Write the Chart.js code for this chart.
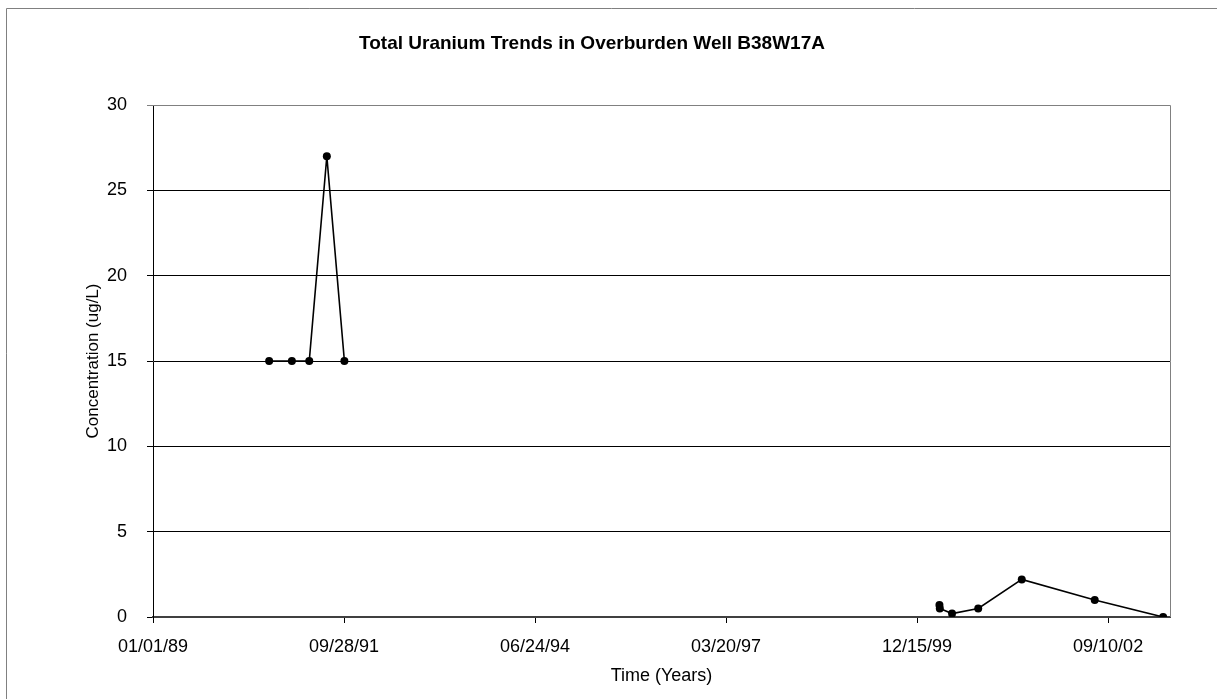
<!DOCTYPE html>
<html>
<head>
<meta charset="utf-8">
<title>Total Uranium Trends in Overburden Well B38W17A</title>
<script src="https://cdn.jsdelivr.net/npm/chart.js@4.4.1/dist/chart.umd.min.js"></script>
<style>
  html, body { margin: 0; padding: 0; background: #fff; }
  #wrap { width: 1217px; height: 699px; position: relative; }
</style>
</head>
<body>
<div id="wrap"><canvas id="uraniumChart" width="1217" height="699"></canvas></div>
<script>
const chartTitle = "Total Uranium Trends in Overburden Well B38W17A";
const yAxisTitle = "Concentration (ug/L)";

// sampling dates and total uranium (ug/L)
const earlyDates = ["1990-09-01", "1990-12-29", "1991-03-30", "1991-06-30", "1991-09-30"];
const earlyValues = [15, 15, 15, 27, 15];

const recentDates = ["2000-04-10", "2000-04-12", "2000-06-15", "2000-10-30", "2001-06-15", "2002-07-02", "2003-06-25"];
const recentValues = [0.7, 0.5, 0.2, 0.5, 2.2, 1.0, 0];

// axis range
const xStart = "1989-01-01";
const xEnd = "2003-07-31";
const xStepDays = 1000;
const yTicks = [0, 5, 10, 15, 20, 25, 30];

const DAY = 86400000;
const toDay = (s) => Date.parse(s + "T00:00:00Z") / DAY;
const pad2 = (n) => String(n).padStart(2, "0");
const fmtDate = (v) => {
  const d = new Date(Math.round(v) * DAY);
  return pad2(d.getUTCMonth() + 1) + "/" + pad2(d.getUTCDate()) + "/" + String(d.getUTCFullYear()).slice(2);
};
const toPoints = (dates, values) => dates.map((d, i) => ({ x: toDay(d), y: values[i] }));

const xMin = toDay(xStart);
const xMax = toDay(xEnd);

Chart.defaults.font.family = "'Liberation Sans', Arial, sans-serif";
Chart.defaults.color = "#000";

// white background, outer frame, plot border and titles
const framePlugin = {
  id: "frame",
  beforeDraw(chart) {
    const c = chart.ctx;
    c.save();
    c.fillStyle = "#fff";
    c.fillRect(0, 0, chart.width, chart.height);
    c.strokeStyle = "#808080";
    c.lineWidth = 1;
    c.beginPath();
    c.moveTo(6.5, chart.height);
    c.lineTo(6.5, 8.5);
    c.lineTo(chart.width, 8.5);
    c.stroke();
    c.restore();
  },
  beforeDatasetsDraw(chart) {
    const a = chart.chartArea;
    const c = chart.ctx;
    c.save();
    c.strokeStyle = "#808080";
    c.lineWidth = 1;
    c.beginPath();
    c.moveTo(a.left, Math.round(a.top) + 0.5);
    c.lineTo(Math.round(a.right) + 0.5, Math.round(a.top) + 0.5);
    c.lineTo(Math.round(a.right) + 0.5, a.bottom);
    c.stroke();
    c.restore();
  },
  afterDraw(chart) {
    const a = chart.chartArea;
    const c = chart.ctx;
    c.save();
    c.fillStyle = "#000";
    c.font = "bold 19px 'Liberation Sans', Arial, sans-serif";
    c.textAlign = "center";
    c.textBaseline = "middle";
    c.fillText(chartTitle, 592, 44);

    c.font = "17px 'Liberation Sans', Arial, sans-serif";
    c.translate(93, (a.top + a.bottom) / 2);
    c.rotate(-Math.PI / 2);
    c.fillText(yAxisTitle, 0, 0);
    c.restore();
  }
};

const lineStyle = {
  borderColor: "#000",
  borderWidth: 1.6,
  pointRadius: 4,
  pointBorderWidth: 0,
  pointBackgroundColor: "#000",
  pointHoverRadius: 4,
  tension: 0,
  fill: false
};

const uraniumChart = new Chart(document.querySelector("#uraniumChart").getContext("2d"), {
  type: "line",
  data: {
    datasets: [
      Object.assign({ label: "1990-1991", data: toPoints(earlyDates, earlyValues) }, lineStyle),
      Object.assign({ label: "2000-2003", data: toPoints(recentDates, recentValues) }, lineStyle)
    ]
  },
  options: {
    responsive: false,
    animation: false,
    layout: {
      padding: { top: 105, right: 47, bottom: 0, left: 0 }
    },
    plugins: {
      legend: { display: false },
      title: { display: false },
      tooltip: { enabled: false }
    },
    scales: {
      x: {
        type: "linear",
        min: xMin,
        max: xMax,
        afterBuildTicks: (scale) => {
          const ticks = [];
          for (let v = xMin; v <= xMax; v += xStepDays) ticks.push({ value: v });
          scale.ticks = ticks;
        },
        ticks: {
          callback: (v) => fmtDate(v),
          font: { size: 18 },
          padding: 13,
          maxRotation: 0,
          autoSkip: false
        },
        grid: {
          drawOnChartArea: false,
          tickLength: 6,
          tickColor: "#000"
        },
        border: { color: "#404040", width: 2 },
        title: {
          display: true,
          text: "Time (Years)",
          font: { size: 18 },
          padding: { top: 0, bottom: 12 }
        },
        afterFit: (scale) => { scale.height = 82; }
      },
      y: {
        min: 0,
        max: 30,
        afterBuildTicks: (scale) => {
          scale.ticks = yTicks.map((v) => ({ value: v }));
        },
        ticks: {
          font: { size: 18 },
          padding: 20
        },
        grid: {
          color: (ctx) => (ctx.tick && ctx.tick.value === 30 ? "#808080" : "#000"),
          tickColor: (ctx) => (ctx.tick && ctx.tick.value === 30 ? "#808080" : "#000"),
          tickLength: 6,
          lineWidth: 1
        },
        border: { color: "#000", width: 1 },
        afterFit: (scale) => { scale.width = 153; }
      }
    }
  },
  plugins: [framePlugin]
});
</script>
</body>
</html>
